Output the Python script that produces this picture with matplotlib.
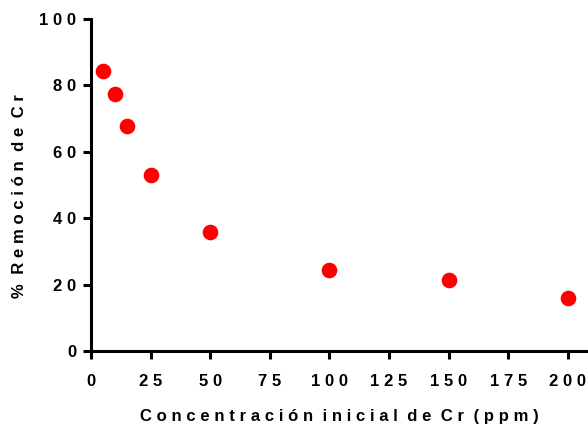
import matplotlib
matplotlib.use('Agg')
import matplotlib.pyplot as plt

# data
conc = [5, 10, 15, 25, 50, 100, 150, 200]
removal = [84.2, 77.5, 67.8, 53.0, 35.8, 24.4, 21.4, 16.0]

xticks = [0, 25, 50, 75, 100, 125, 150, 175, 200]
yticks = [0, 20, 40, 60, 80, 100]

FAM = ['Liberation Sans', 'DejaVu Sans']
SP = '\u2009\u200a'


def spaced(s):
    # fake letter spacing like the GraphPad export
    return SP.join(s)


def spaced_words(s):
    return (SP + SP).join(spaced(w) for w in s.split())


fig = plt.figure(figsize=(5.88, 4.29), dpi=100)
ax = fig.add_axes([0.155, 0.1818, 0.845, 0.7739])

ax.scatter(conc, removal, s=105, color='#ff0000', zorder=3, clip_on=False)

ax.set_xlim(0, 208.5)
ax.set_ylim(0, 100)
ax.set_xticks(xticks)
ax.set_yticks(yticks)
ax.set_xticklabels([spaced(str(t)) for t in xticks], family=FAM,
                   fontweight='bold', fontsize=12)
ax.set_yticklabels([spaced(str(t)) for t in yticks], family=FAM,
                   fontweight='bold', fontsize=12)

for side in ['top', 'right']:
    ax.spines[side].set_visible(False)
for side in ['left', 'bottom']:
    ax.spines[side].set_linewidth(2.2)
ax.tick_params(width=2.2, length=5.8, direction='out', pad=5)
ax.tick_params(axis='x', pad=11)

ax.set_xlabel(spaced_words('Concentración inicial de Cr (ppm)'),
              family=FAM, fontweight='bold', fontsize=12, labelpad=14)
ax.set_ylabel(spaced_words('% Remoción de Cr'),
              family=FAM, fontweight='bold', fontsize=12)
ax.yaxis.set_label_coords(-0.129, 0.467)

fig.savefig('out.png', dpi=100)
